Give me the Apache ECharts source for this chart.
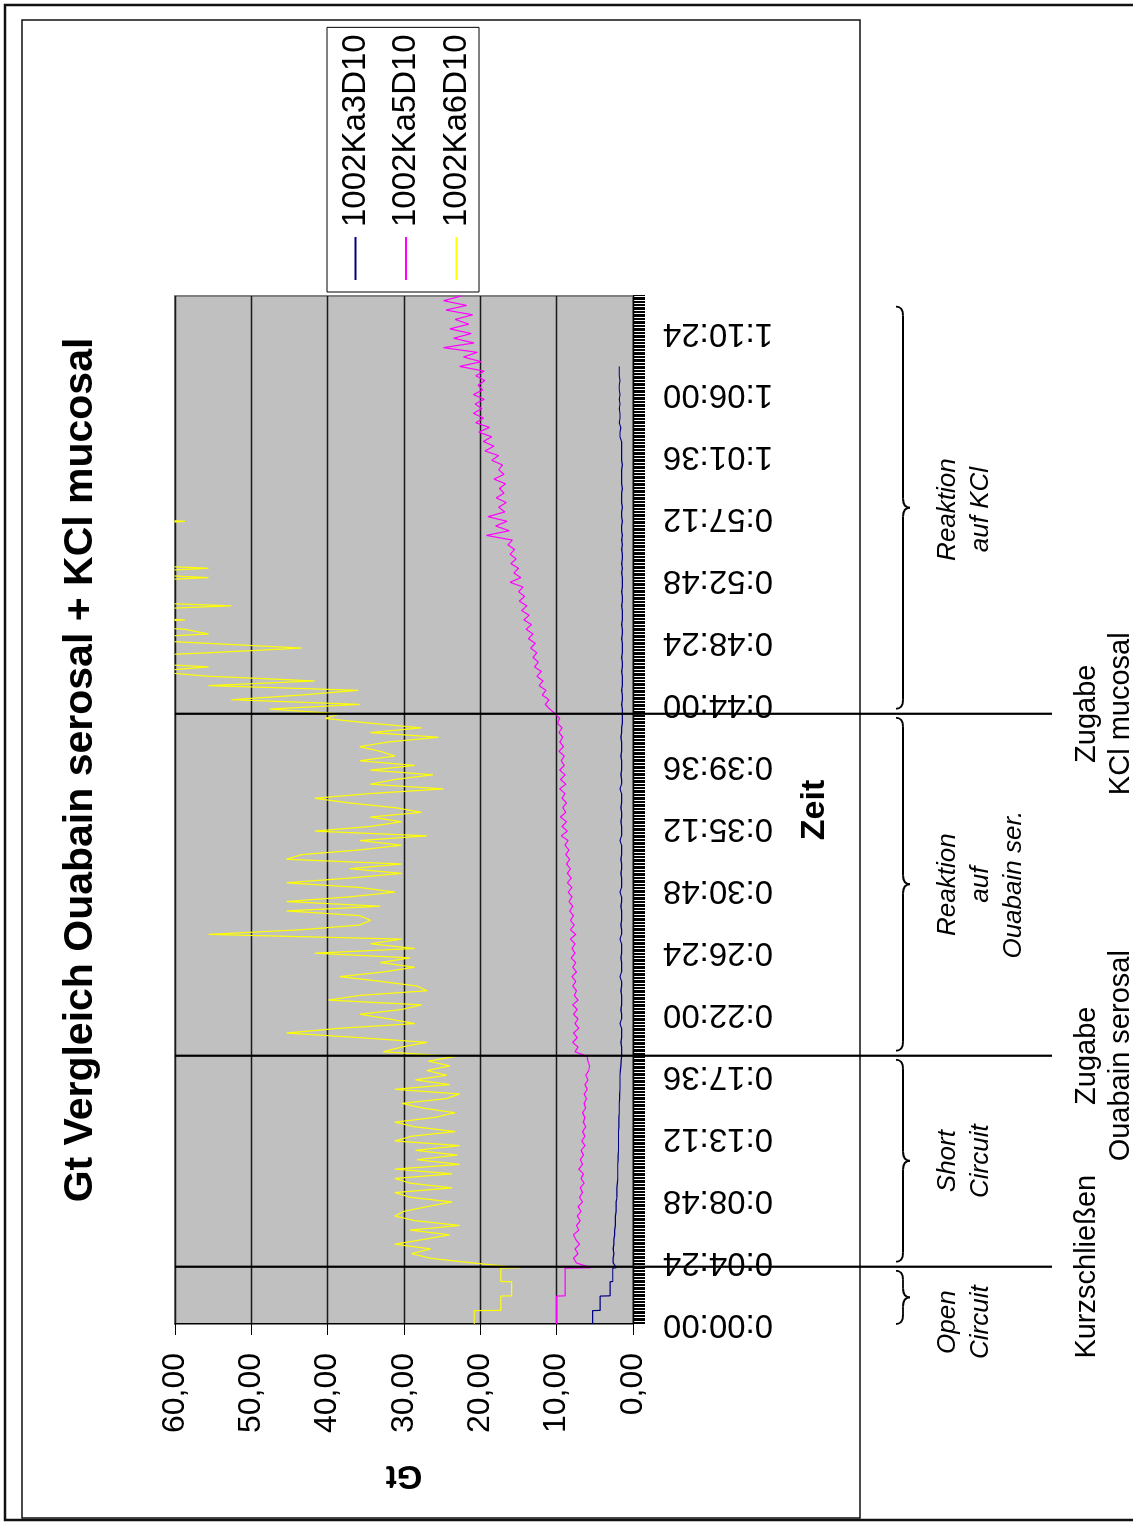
<!DOCTYPE html>
<html>
<head>
<meta charset="utf-8">
<script src="https://cdn.jsdelivr.net/npm/echarts@6/dist/echarts.min.js"></script>
<style>
html,body{margin:0;padding:0;width:1133px;height:1524px;overflow:hidden;background:#fff;}
#wrap{position:absolute;left:0;top:0;width:1524px;height:1133px;transform-origin:0 0;transform:translate(0px,1524px) rotate(-90deg);}
#chart{width:1524px;height:1133px;}
</style>
</head>
<body>
<div id="wrap"><div id="chart"></div></div>
<script>
// ---------------- data ----------------
const chartTitle = 'Gt Vergleich Ouabain serosal + KCl mucosal';
const seriesNames = ['1002Ka3D10', '1002Ka5D10', '1002Ka6D10'];
const seriesColors = ['#000080', '#FF00FF', '#FFFF00'];

// event markers (seconds) and their labels
const eventTimes = [244, 1143, 2600];
const eventLabels = ['Kurzschließen', 'Zugabe\nOuabain serosal', 'Zugabe\nKCl mucosal'];
// phases (brace extents, seconds) and their labels
const phaseBounds = [0, 244, 1143, 2600, 4352];
const phaseLabels = ['Open\nCircuit', 'Short\nCircuit', 'Reaktion\nauf\nOuabain ser.', 'Reaktion\nauf KCl'];
const phaseLabelTimes = [8, 694, 1872, 3470];

// open circuit phase: one reading per minute (held)
const openTimes = [0, 57, 58, 119, 120, 180, 181, 238];
const ka3Open = [5.3, 5.3, 4.3, 4.3, 3.0, 3.0, 2.65, 2.65];
const ka5Open = [10.0, 10.0, 10.0, 10.0, 8.9, 8.9, 8.9, 8.9];
const ka6Open = [20.8, 20.8, 17.3, 17.3, 15.9, 15.9, 17.3, 17.3];

// continuous recording after short circuit: sample instants start at 240 s, every 20 s
const sampleStart = 240;
const sampleStep = 20;

const ka3Values = [
  2.2, 2.6, 2.6, 2.5, 2.6, 2.5, 2.5, 2.4, 2.4, 2.3, 2.3, 2.3, 2.2, 2.2, 2.2, 2.1, 2.1, 2.1, 2.05, 2.0,
  2.0, 2.0, 2.0, 1.95, 1.95, 1.9, 1.9, 1.9, 1.9, 1.9, 1.85, 1.85, 1.85, 1.8, 1.8, 1.8, 1.75, 1.75, 1.7, 1.7,
  1.7, 1.7, 1.65, 1.6, 1.55, 1.5,
  1.5, 1.5, 1.6, 1.5, 1.5, 1.5, 1.7, 1.5, 1.5, 1.6,
  1.5, 1.5, 1.5, 1.6, 1.5, 1.5, 1.7, 1.5, 1.5, 1.5,
  1.6, 1.5, 1.5, 1.5, 1.7, 1.5, 1.5, 1.6, 1.5, 1.5,
  1.5, 1.6, 1.5, 1.5, 1.7, 1.5, 1.5, 1.5, 1.6, 1.5,
  1.5, 1.6, 1.5, 1.5, 1.5, 1.7, 1.5, 1.5, 1.5, 1.6,
  1.5, 1.5, 1.6, 1.5, 1.5, 1.5, 1.7, 1.5, 1.5, 1.6,
  1.5, 1.5, 1.5, 1.6, 1.5, 1.5, 1.5, 1.6, 1.5, 1.5,
  1.4, 1.4,
  1.4, 1.4, 1.5, 1.4, 1.4, 1.5, 1.4, 1.4, 1.4, 1.5,
  1.4, 1.4, 1.5, 1.4, 1.4, 1.4, 1.5, 1.4, 1.4, 1.5,
  1.4, 1.4, 1.4, 1.5, 1.4, 1.4, 1.5, 1.4, 1.4, 1.4,
  1.5, 1.4, 1.5, 1.4, 1.4, 1.5, 1.4, 1.5, 1.4, 1.5,
  1.5, 1.4, 1.5, 1.5, 1.4, 1.5, 1.5, 1.5, 1.4, 1.5,
  1.5, 1.5, 1.5, 1.4, 1.5, 1.5, 1.5, 1.5, 1.5, 1.7,
  1.7, 1.6, 1.8, 1.7, 1.7, 1.8, 1.7, 1.8, 1.7, 1.8,
  1.8, 1.7, 1.8, 1.8, 1.8
];

const ka5Values = [
  5.5, 7.4, 7.8, 7.2, 7.6, 7.0, 7.5, 7.8, 7.1, 7.4, 6.9, 7.3, 6.8, 7.2, 6.6, 7.0, 6.6, 6.9, 6.4, 6.8,
  6.5, 7.1, 6.6, 6.9, 6.5, 6.8, 6.3, 6.7, 6.3, 6.6, 6.2, 6.5, 6.3, 6.6, 6.2, 6.4, 6.1, 6.4, 6.0, 6.3,
  5.9, 6.2, 5.8, 5.7, 5.9, 6.0,
  7.6, 7.2, 7.9, 7.3, 7.8, 7.1, 7.6, 7.2, 7.8, 7.3, 7.9, 7.2, 7.7, 7.4, 7.9, 7.5, 8.0, 7.4, 7.9, 7.5,
  8.1, 7.6, 8.0, 7.6, 8.2, 7.5, 8.2, 7.7, 8.2, 7.8, 8.3, 7.9, 8.4, 8.0, 8.5, 8.0, 8.6, 8.1, 8.6, 8.2,
  8.7, 8.3, 8.8, 8.4, 8.9, 8.5, 9.4, 8.6, 9.3, 8.7, 9.5, 8.8, 9.2, 8.7, 9.3, 8.9, 9.6, 8.8, 9.5, 8.9,
  9.6, 9.0, 9.4, 9.0, 9.7, 9.1, 9.6, 9.2, 9.7, 9.3, 9.9, 9.6,
  10.2, 10.9, 11.5, 11.0, 11.9, 11.4, 12.3, 11.8, 12.6, 12.0, 12.9, 12.4, 13.1, 12.6, 13.4, 12.8, 13.7, 13.1, 14.0, 13.3,
  14.3, 13.6, 14.6, 13.9, 14.9, 14.2, 15.0, 14.4, 16.1, 14.7, 15.6, 15.0, 16.0, 15.3, 16.1, 15.5, 16.4, 15.8, 19.2, 16.2,
  18.0, 16.5, 19.0, 16.8, 17.6, 16.6, 17.9, 16.9, 17.5, 16.7, 18.2, 16.9, 17.6, 17.1, 18.5, 17.6, 19.4, 18.2, 19.6, 18.5,
  20.2, 18.8, 20.6, 19.6, 20.9, 19.8, 20.7, 19.5, 20.9, 19.7, 20.3, 19.4, 20.6, 19.5, 22.7, 19.9, 22.2, 20.4, 24.8, 20.8,
  23.5, 21.2, 24.0, 21.5, 23.3, 21.0, 24.5, 21.8, 24.8, 22.5
];

const ka6Values = [
  14.8, 21, 26.5, 29, 26.5, 31.2, 27.5, 24, 29.2, 22.7, 28.5, 31.2, 30, 27, 23.7, 29.2, 31.2, 23.7, 29.2, 31.2,
  23.7, 31.2, 22.7, 28.3, 23, 28.5, 22.7, 31.2, 29, 23.3, 28.5, 31.2, 26, 23.3, 27.5, 30.3, 24.5, 22.7, 31.2, 24,
  28.5, 24.4, 27, 24, 26.8, 23.3,
  32.7, 30.3, 27, 35.8, 45.4, 38.4, 28.6, 32, 35.8, 30.3, 27.7, 39.9, 35.8, 27, 28.3, 33.1, 38.4, 32.7, 28.6, 33.1,
  29.2, 41.7, 28.6, 34.4, 30.3, 55.6, 43.4, 35.8, 34.4, 35.8, 45.4, 33.1, 45.4, 37.1, 31.2, 35.8, 45.4, 37.1, 30.3, 37.1,
  30.3, 45.4, 43.4, 35.8, 30.3, 35.8, 27, 41.7, 34.4, 30.3, 34.4, 27.7, 31.2, 37.1, 41.7, 34.4, 24.8, 34.4, 31.2, 26.2,
  34.4, 28.6, 35.8, 31.2, 33.1, 35.8, 32, 25.5, 34.4, 27.7, 34.4, 40.3, 38.4,
  47.6, 35.8, 52.6, 43.4, 36, 55.6, 41.7, 55.6, 63, 55.6, 68, 70, 55.6, 43.4, 55.6, 68, 55.6, 58.7, 70, 58.7,
  72, 68, 52.6, 70, 72, 69, 74, 70, 55.6, 68, 55.6, 70, 75, 72, 78, 74, 70, 76, 72, 68,
  58.7, 70, 75, 72, 78, 74, 76
];

// axis
const yMin = 0, yMax = 60, yStep = 10;
const tMin = 0, tMax = 4380, tStep = 264;

// ---------------- helpers ----------------
const FONT = "'Liberation Sans', Arial, Helvetica, sans-serif";
function hms(v) {
  v = Math.round(v);
  const h = Math.floor(v / 3600), m = Math.floor((v % 3600) / 60), s = v % 60;
  return h + ':' + String(m).padStart(2, '0') + ':' + String(s).padStart(2, '0');
}
function buildSeries(openVals, vals) {
  const d = [];
  openTimes.forEach((t, i) => d.push([t, openVals[i]]));
  vals.forEach((v, k) => d.push([sampleStart + k * sampleStep, v]));
  return d;
}
const allData = [buildSeries(ka3Open, ka3Values), buildSeries(ka5Open, ka5Values), buildSeries(ka6Open, ka6Values)];

const chart = echarts.init(document.getElementById('chart'), null, {renderer: 'canvas', width: 1524, height: 1133});

const option = {
  animation: false,
  backgroundColor: '#ffffff',
  textStyle: {fontFamily: FONT},
  title: {
    text: chartTitle, left: 754, top: 60, textAlign: 'center', padding: 0,
    textStyle: {fontFamily: FONT, fontSize: 41, fontWeight: 'bold', color: '#000'}
  },
  legend: {
    orient: 'vertical', left: 1232, top: 327,
    itemWidth: 43, itemHeight: 2, itemGap: 17.5, icon: 'rect',
    padding: [12, 7, 6, 12],
    borderColor: '#000', borderWidth: 1, backgroundColor: '#fff',
    textStyle: {fontFamily: FONT, fontSize: 33, color: '#000', lineHeight: 33, padding: [0, 0, 0, 5]},
    data: seriesNames
  },
  grid: {
    left: 200, right: 296, top: 175, bottom: 500,
    show: true, backgroundColor: '#C0C0C0', borderColor: '#808080', borderWidth: 2,
    containLabel: false, outerBoundsMode: 'none'
  },
  xAxis: {
    type: 'value', min: tMin, max: tMax, interval: tStep,
    name: 'Zeit', nameLocation: 'middle', nameGap: 165,
    nameTextStyle: {fontFamily: FONT, fontSize: 34, fontWeight: 'bold', color: '#000'},
    axisLine: {show: true, onZero: false, lineStyle: {color: '#000', width: 1}},
    axisTick: {show: true, length: 12, lineStyle: {color: '#000', width: 1}},
    minorTick: {show: true, splitNumber: 44, length: 12, lineStyle: {color: '#000', width: 1}},
    splitLine: {show: false}, minorSplitLine: {show: false},
    axisLabel: {rotate: 90, margin: 30, fontFamily: FONT, fontSize: 33, color: '#000',
      formatter: hms, showMaxLabel: false, showMinLabel: true}
  },
  yAxis: {
    type: 'value', min: yMin, max: yMax, interval: yStep,
    name: 'Gt', nameLocation: 'middle', nameGap: 135, nameRotate: 90,
    nameTextStyle: {fontFamily: FONT, fontSize: 33, fontWeight: 'bold', color: '#000'},
    axisLine: {show: true, lineStyle: {color: '#000', width: 1}},
    axisTick: {show: true, length: 11, lineStyle: {color: '#000', width: 1}},
    splitLine: {show: true, lineStyle: {color: '#1a1a1a', width: 1.3}},
    axisLabel: {margin: 29, fontFamily: FONT, fontSize: 32, color: '#000',
      formatter: v => v.toFixed(2).replace('.', ',')}
  },
  series: seriesNames.map((n, i) => ({
    name: n, type: 'line', data: allData[i],
    symbol: 'none', showSymbol: false, clip: true, silent: true,
    lineStyle: {color: seriesColors[i], width: 1.2},
    itemStyle: {color: seriesColors[i]},
    z: 2 + i
  }))
};
chart.setOption(option);

// ---------------- annotations (positions from axis scale) ----------------
const px = t => chart.convertToPixel({gridIndex: 0}, [t, 0])[0];
const plotTop = chart.convertToPixel({gridIndex: 0}, [0, yMax])[1];
const g = [];
// outer frame and chart area frame
g.push({type: 'rect', shape: {x: 4, y: 5, width: 1515, height: 1300}, style: {fill: 'none', stroke: '#111', lineWidth: 2.5}, z: 50, silent: true});
g.push({type: 'rect', shape: {x: 6, y: 22, width: 1498, height: 838}, style: {fill: 'none', stroke: '#111', lineWidth: 1.5}, z: 50, silent: true});
// event lines + labels
eventTimes.forEach((t, i) => {
  const x = px(t);
  g.push({type: 'line', shape: {x1: x, y1: plotTop, x2: x, y2: 1052}, style: {stroke: '#000', lineWidth: 2.2}, z: 100, silent: true});
  g.push({type: 'text', x: x, y: 1070, style: {text: eventLabels[i], fill: '#000', fontFamily: FONT, fontSize: 29,
    lineHeight: 34, align: 'center', verticalAlign: 'top'}, z: 100, silent: true});
});
// braces
const yEnd = 896, yMid = 903, yTip = 910, r = 9;
function brace(xL, xR) {
  const xT = (xL + xR) / 2;
  const st = {stroke: '#000', lineWidth: 1.8, fill: 'none'};
  return [
    {type: 'bezierCurve', shape: {x1: xL, y1: yEnd, x2: xL + r, y2: yMid, cpx1: xL, cpy1: yMid}, style: st},
    {type: 'line', shape: {x1: xL + r, y1: yMid, x2: xT - r, y2: yMid}, style: st},
    {type: 'bezierCurve', shape: {x1: xT - r, y1: yMid, x2: xT, y2: yTip, cpx1: xT, cpy1: yMid}, style: st},
    {type: 'bezierCurve', shape: {x1: xT, y1: yTip, x2: xT + r, y2: yMid, cpx1: xT, cpy1: yMid}, style: st},
    {type: 'line', shape: {x1: xT + r, y1: yMid, x2: xR - r, y2: yMid}, style: st},
    {type: 'bezierCurve', shape: {x1: xR - r, y1: yMid, x2: xR, y2: yEnd, cpx1: xR, cpy1: yMid}, style: st}
  ];
}
for (let p = 0; p < phaseLabels.length; p++) {
  const xL = px(phaseBounds[p]) + (p === 0 ? 0 : 5);
  const xR = px(phaseBounds[p + 1]) - 4;
  brace(xL, xR).forEach(e => { e.z = 100; e.silent = true; g.push(e); });
  g.push({type: 'text', x: px(phaseLabelTimes[p]), y: 931, style: {text: phaseLabels[p], fill: '#000', fontFamily: FONT,
    fontSize: 26, fontStyle: 'italic', lineHeight: 33, align: 'center', verticalAlign: 'top'}, z: 100, silent: true});
}
chart.setOption({graphic: {elements: g}});
</script>
</body>
</html>
